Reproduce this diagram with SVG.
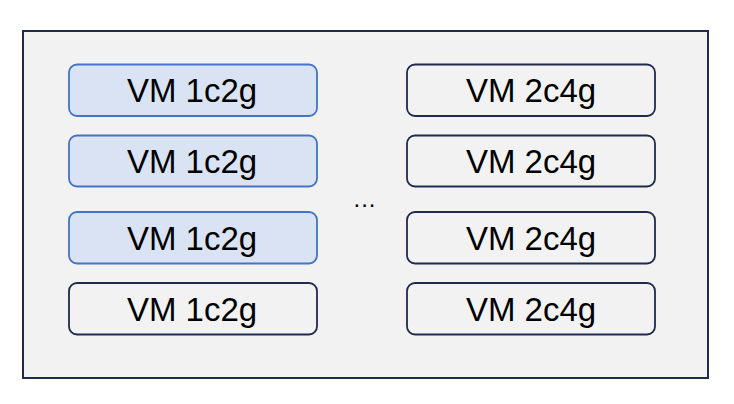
<svg xmlns="http://www.w3.org/2000/svg" width="734" height="404" viewBox="0 0 734 404">
<style>
.t{font-family:"Liberation Sans",Arial,sans-serif;font-size:33px;fill:#000;text-anchor:middle}
.b{fill:#dae3f3;stroke:#4472c4;stroke-width:1.8}
.w{fill:#f2f2f2;stroke:#1f2a4d;stroke-width:1.8}
</style>
<rect width="734" height="404" fill="#fff"/>
<g id="host"><rect x="23" y="31" width="685" height="347" fill="#f2f2f2" stroke="#1f2a4d" stroke-width="2"/></g>
<g id="vm1"><rect class="b" x="69" y="64.5" width="248" height="51.5" rx="8"/><text class="t" x="192" y="102">VM 1c2g</text></g>
<g id="vm2"><rect class="b" x="69" y="135.5" width="248" height="51" rx="8"/><text class="t" x="192" y="173">VM 1c2g</text></g>
<g id="vm3"><rect class="b" x="69" y="212" width="248" height="51.5" rx="8"/><text class="t" x="192" y="250">VM 1c2g</text></g>
<g id="vm4"><rect class="w" x="69" y="283" width="248" height="51.5" rx="8"/><text class="t" x="192" y="321">VM 1c2g</text></g>
<g id="vm5"><rect class="w" x="407" y="64.5" width="248" height="51.5" rx="8"/><text class="t" x="531" y="102">VM 2c4g</text></g>
<g id="vm6"><rect class="w" x="407" y="135.5" width="248" height="51" rx="8"/><text class="t" x="531" y="173">VM 2c4g</text></g>
<g id="vm7"><rect class="w" x="407" y="212" width="248" height="51.5" rx="8"/><text class="t" x="531" y="250">VM 2c4g</text></g>
<g id="vm8"><rect class="w" x="407" y="283" width="248" height="51.5" rx="8"/><text class="t" x="531" y="321">VM 2c4g</text></g>
<g id="dots"><text x="365" y="207" style="font-family:'Liberation Sans',Arial,sans-serif;font-size:24px;letter-spacing:1px;text-anchor:middle;fill:#000">...</text></g>
<g id="connectors"/>
</svg>
